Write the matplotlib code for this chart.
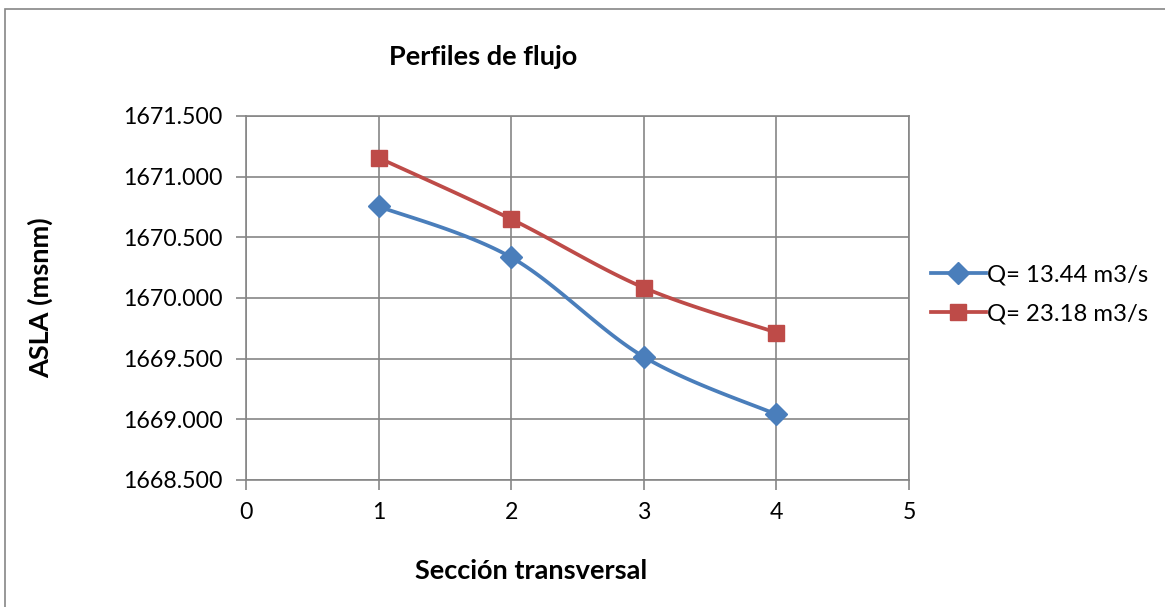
import numpy as np
import matplotlib.pyplot as plt
from matplotlib.patches import Rectangle

plt.rcParams['font.family'] = ['Lato', 'DejaVu Sans']

secciones = [1, 2, 3, 4]
asla_q1 = [1670.755, 1670.335, 1669.515, 1669.040]
asla_q2 = [1671.155, 1670.650, 1670.085, 1669.715]
etiquetas = ['Q= 13.44 m3/s', 'Q= 23.18 m3/s']
colores = ['#4A7EBB', '#BE4B48']
marcadores = ['D', 's']

y_ticks = [1668.5, 1669.0, 1669.5, 1670.0, 1670.5, 1671.0, 1671.5]
x_ticks = [0, 1, 2, 3, 4, 5]


def suavizar(x, y, n=40):
    # curva tipo Excel (Catmull-Rom / Bezier) entre los puntos
    x = np.asarray(x, float)
    y = np.asarray(y, float)
    px = np.concatenate([[x[0]], x, [x[-1]]])
    py = np.concatenate([[y[0]], y, [y[-1]]])
    xs, ys = [], []
    for i in range(1, len(px) - 2):
        p0 = np.array([px[i - 1], py[i - 1]])
        p1 = np.array([px[i], py[i]])
        p2 = np.array([px[i + 1], py[i + 1]])
        p3 = np.array([px[i + 2], py[i + 2]])
        c1 = p1 + (p2 - p0) / 6.0
        c2 = p2 - (p3 - p1) / 6.0
        t = np.linspace(0, 1, n)[:, None]
        b = ((1 - t) ** 3) * p1 + 3 * ((1 - t) ** 2) * t * c1 + 3 * (1 - t) * t ** 2 * c2 + t ** 3 * p2
        xs.extend(b[:, 0])
        ys.extend(b[:, 1])
    return np.array(xs), np.array(ys)


fig = plt.figure(figsize=(11.65, 6.07), dpi=100)
ax = fig.add_axes([246 / 1165, 1 - 480 / 607, (909 - 246) / 1165, (480 - 116) / 607])

# marco del grafico
fig.patches.append(Rectangle((5 / 1165, -0.1), 1.2, 1.1 - 9 / 607, transform=fig.transFigure,
                             fill=False, edgecolor='#868686', linewidth=1.2))

tam = {'D': 11, 's': 12}
for serie, col, mk, lab in zip([asla_q1, asla_q2], colores, marcadores, etiquetas):
    sx, sy = suavizar(secciones, serie)
    ax.plot(sx, sy, color=col, linewidth=2.7, solid_capstyle='round', zorder=3)
    ax.plot(secciones, serie, linestyle='none', marker=mk, color=col,
            markersize=tam[mk], zorder=4)
    ax.plot([], [], color=col, linewidth=2.7, marker=mk, markersize=tam[mk], label=lab)

ax.set_xlim(0, 5)
ax.set_ylim(1668.5, 1671.5)
ax.set_xticks(x_ticks)
ax.set_yticks(y_ticks)
ax.set_yticklabels([f'{v:.3f}' for v in y_ticks])
ax.grid(True, color='#868686', linewidth=1.2)
ax.set_axisbelow(True)
for s in ax.spines.values():
    s.set_color('#868686')
    s.set_linewidth(1.2)
ax.tick_params(axis='both', direction='out', length=7, width=1.2, color='#868686',
               labelsize=16.7, labelcolor='black')
ax.tick_params(axis='x', pad=9)
ax.tick_params(axis='y', pad=10)

fig.text(483 / 1165, 1 - 57 / 607, 'Perfiles de flujo', ha='center', va='center',
         fontsize=19.5, fontweight='bold')
fig.text(531 / 1165, 1 - 571 / 607, 'Sección transversal', ha='center', va='center',
         fontsize=19.5, fontweight='bold')
fig.text(40 / 1165, 1 - 298 / 607, 'ASLA (msnm)', ha='center', va='center', rotation=90,
         fontsize=19.5, fontweight='bold')

ax.legend(loc='center left', bbox_to_anchor=(1.008, 0.51), frameon=False, fontsize=17.2,
          handlelength=2.3, handletextpad=0.05, labelspacing=0.75, borderaxespad=0.3)

fig.savefig('out.png', dpi=100)
